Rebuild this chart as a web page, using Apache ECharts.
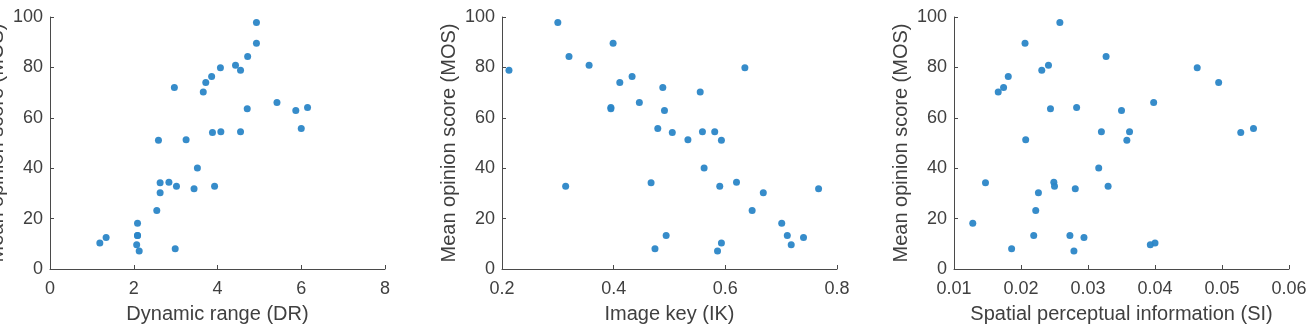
<!DOCTYPE html>
<html>
<head>
<meta charset="utf-8">
<script src="https://cdn.jsdelivr.net/npm/echarts@6/dist/echarts.min.js"></script>
<style>
  html, body { margin: 0; padding: 0; background: #ffffff; }
  #chart { width: 1309px; height: 326px; }
</style>
</head>
<body>
<div id="chart"></div>
<script>
// Mean opinion score per image
const mos = [97.8, 89.6, 84.3, 80.9, 79.9, 78.9, 76.4, 74.0, 72.0, 70.2,
             66.1, 64.1, 63.6, 62.9, 55.8, 54.2, 54.5, 54.5, 51.3, 51.1,
             40.1, 34.2, 34.4, 32.8, 32.8, 31.8, 30.3, 23.2, 18.2, 13.3,
             13.3, 12.5, 10.3, 9.6, 8.0, 7.1];
// Dynamic range (DR)
const dr = [4.93, 4.93, 4.72, 4.43, 4.07, 4.55, 3.86, 3.72, 2.97, 3.66,
            5.42, 6.15, 4.71, 5.87, 6.00, 3.88, 4.08, 4.55, 3.25, 2.59,
            3.52, 2.63, 2.84, 3.02, 3.93, 3.44, 2.63, 2.55, 2.09, 2.09,
            2.09, 1.34, 1.19, 2.07, 2.99, 2.13];
// Image key (IK)
const ik = [0.300, 0.399, 0.320, 0.356, 0.635, 0.2125, 0.433, 0.411, 0.488, 0.555,
            0.446, 0.395, 0.395, 0.491, 0.479, 0.505, 0.559, 0.581, 0.533, 0.593,
            0.562, 0.467, 0.620, 0.314, 0.590, 0.767, 0.668, 0.648, 0.701, 0.711,
            0.494, 0.740, 0.593, 0.718, 0.474, 0.586];
// Spatial perceptual information (SI)
const si = [0.0258, 0.0206, 0.0327, 0.0241, 0.0463, 0.0231, 0.0181, 0.0495, 0.0174, 0.0166,
            0.0398, 0.0283, 0.0244, 0.0350, 0.0547, 0.0528, 0.0320, 0.0362, 0.0207, 0.0358,
            0.0316, 0.0147, 0.0249, 0.0250, 0.0330, 0.0281, 0.0226, 0.0222, 0.0128, 0.0219,
            0.0273, 0.0294, 0.0400, 0.0393, 0.0186, 0.0279];

const xNames = ['Dynamic range (DR)', 'Image key (IK)', 'Spatial perceptual information (SI)'];
const yName = 'Mean opinion score (MOS)';
const xRanges = [[0, 8, 2, 0], [0.2, 0.8, 0.2, 1], [0.01, 0.06, 0.01, 2]];
const mosTicks = [0, 100, 20];

const FONT = 'Liberation Sans, Arial, Helvetica, sans-serif';
const TXT = '#404040';
const AX = '#4a4a4a';
const DOT = '#2b86c7';

const gridLefts = [50, 502, 954];
const grids = gridLefts.map(l => ({ left: l, top: 17, width: 335, height: 252,
                                    outerBoundsMode: 'none', containLabel: false }));

const xAxes = xRanges.map((r, i) => ({
  gridIndex: i, type: 'value', min: r[0], max: r[1], interval: r[2],
  name: xNames[i], nameLocation: 'middle', nameGap: 35,
  nameTextStyle: { fontFamily: FONT, fontSize: 20, color: TXT },
  axisLine: { show: true, onZero: false, lineStyle: { color: AX, width: 1 } },
  axisTick: { show: true, inside: true, length: 4, lineStyle: { color: AX } },
  axisLabel: { fontFamily: FONT, fontSize: 18, color: TXT, margin: 11,
               formatter: v => (r[3] === 0 ? String(Math.round(v)) : v.toFixed(r[3])) },
  splitLine: { show: false }
}));

const yAxes = [0, 1, 2].map(i => ({
  gridIndex: i, type: 'value', min: mosTicks[0], max: mosTicks[1], interval: mosTicks[2],
  name: yName, nameLocation: 'middle', nameGap: 43, nameRotate: 90,
  nameTextStyle: { fontFamily: FONT, fontSize: 20, color: TXT },
  axisLine: { show: true, onZero: false, lineStyle: { color: AX, width: 1 } },
  axisTick: { show: true, inside: true, length: 4, lineStyle: { color: AX } },
  axisLabel: { fontFamily: FONT, fontSize: 18, color: TXT, margin: 7 },
  splitLine: { show: false }
}));

const xs = [dr, ik, si];
const series = xs.map((arr, i) => ({
  type: 'scatter', xAxisIndex: i, yAxisIndex: i,
  symbol: 'circle', symbolSize: 7,
  itemStyle: { color: DOT, opacity: 0.95 },
  data: arr.map((x, k) => [x, mos[k]])
}));

const chart = echarts.init(document.getElementById('chart'), null, { renderer: 'canvas' });
chart.setOption({
  animation: false,
  backgroundColor: '#ffffff',
  grid: grids, xAxis: xAxes, yAxis: yAxes, series: series
});
</script>
</body>
</html>
